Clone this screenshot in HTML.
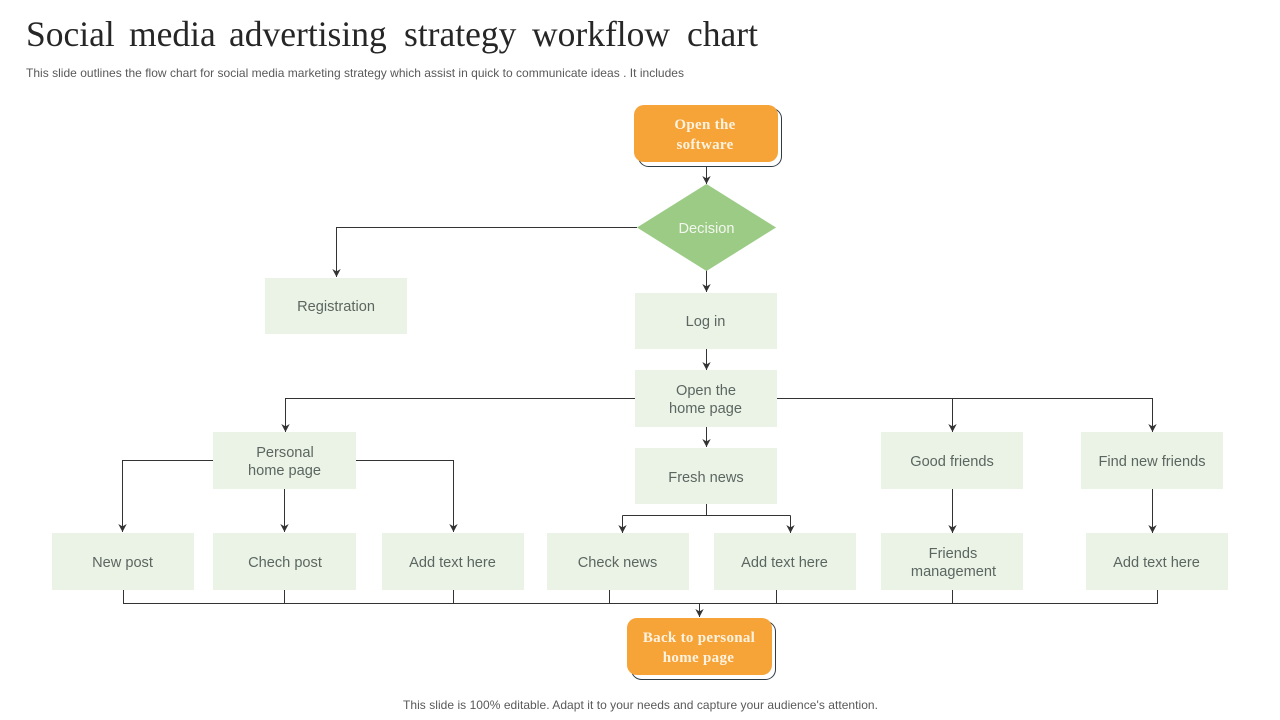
<!DOCTYPE html>
<html><head><meta charset="utf-8"><style>
html,body{margin:0;padding:0;background:#fff;width:1280px;height:720px;overflow:hidden}
svg{display:block}
.n{font:14.6px "Liberation Sans",sans-serif;fill:#5c6660;text-anchor:middle}
.o{font:bold 15px "Liberation Serif",serif;fill:#fdf3e0;text-anchor:middle;letter-spacing:.3px}
.l{fill:none;stroke:#333;stroke-width:1}
.b{fill:#ebf3e7}
</style></head><body>
<svg width="1280" height="720" viewBox="0 0 1280 720" xmlns="http://www.w3.org/2000/svg">
<defs><marker id="a" markerUnits="userSpaceOnUse" markerWidth="11" markerHeight="11" refX="9" refY="5.5" orient="auto" viewBox="0 0 11 11"><path d="M1 1.300L3.400 5.500L1 9.700L9 5.500Z" fill="#333"/></marker></defs>
<text y="46" font-family="'Liberation Serif',serif" font-size="35.500" fill="#262626"><tspan x="26">Social</tspan><tspan x="129">media</tspan><tspan x="229">advertising</tspan><tspan x="404">strategy</tspan><tspan x="532">workflow</tspan><tspan x="687">chart</tspan></text>
<text x="26" y="77" font-family="'Liberation Sans',sans-serif" font-size="12" fill="#595959" textLength="658">This slide outlines the flow chart for social media marketing strategy which assist in quick to communicate ideas . It includes</text>

<!-- connectors -->
<g class="l">
<path d="M706.500 166V184" marker-end="url(#a)"/>
<path d="M637 227.500H336.500V277" marker-end="url(#a)"/>
<path d="M706.500 270V292" marker-end="url(#a)"/>
<path d="M706.500 349V370" marker-end="url(#a)"/>
<path d="M635 398.500H285.500V432" marker-end="url(#a)"/>
<path d="M777 398.500H1152.500V432" marker-end="url(#a)"/>
<path d="M952.500 398.500V432" marker-end="url(#a)"/>
<path d="M706.500 427V447" marker-end="url(#a)"/>
<path d="M213 460.500H122.500V532" marker-end="url(#a)"/>
<path d="M356 460.500H453.500V532" marker-end="url(#a)"/>
<path d="M284.500 489V532" marker-end="url(#a)"/>
<path d="M706.500 504V515.500"/>
<path d="M622.500 515.500V533" marker-end="url(#a)"/>
<path d="M790.500 515.500V533" marker-end="url(#a)"/>
<path d="M622.500 515.500H790.500"/>
<path d="M952.500 489V533" marker-end="url(#a)"/>
<path d="M1152.500 489V533" marker-end="url(#a)"/>
<path d="M123.500 590V603.500H1157.500V590"/>
<path d="M284.500 590V603.500M453.500 590V603.500M609.500 590V603.500M776.500 590V603.500M952.500 590V603.500"/>
<path d="M699.500 603.500V617" marker-end="url(#a)"/>
</g>

<!-- top terminator -->
<rect x="638.500" y="108.500" width="143" height="58" rx="10" fill="#fff" stroke="#2f3b45"/>
<rect x="634" y="105" width="144" height="57" rx="10" fill="#f6a338"/>
<text class="o" x="705" y="129">Open the</text>
<text class="o" x="705" y="149">software</text>

<polygon points="706.500,184 776,227.500 706.500,271 637,227.500" fill="#9bcb85"/>
<text x="706.500" y="233" text-anchor="middle" font-family="'Liberation Sans',sans-serif" font-size="14.600" fill="#f2f7ee">Decision</text>

<rect class="b" x="265" y="278" width="142" height="56"/>
<text class="n" x="336" y="311">Registration</text>
<rect class="b" x="635" y="293" width="142" height="56"/>
<text class="n" x="705.500" y="326">Log in</text>
<rect class="b" x="635" y="370" width="142" height="57"/>
<text class="n" x="706" y="395">Open the</text>
<text class="n" x="705.500" y="413">home page</text>

<rect class="b" x="213" y="432" width="143" height="57"/>
<text class="n" x="285" y="457">Personal</text>
<text class="n" x="284.500" y="475">home page</text>
<rect class="b" x="635" y="448" width="142" height="56"/>
<text class="n" x="706" y="482">Fresh news</text>
<rect class="b" x="881" y="432" width="142" height="57"/>
<text class="n" x="952" y="466">Good friends</text>
<rect class="b" x="1081" y="432" width="142" height="57"/>
<text class="n" x="1152" y="466">Find new friends</text>

<rect class="b" x="52" y="533" width="142" height="57"/>
<text class="n" x="122.500" y="567">New post</text>
<rect class="b" x="213" y="533" width="143" height="57"/>
<text class="n" x="285" y="567">Chech post</text>
<rect class="b" x="382" y="533" width="142" height="57"/>
<text class="n" x="452.500" y="567">Add text here</text>
<rect class="b" x="547" y="533" width="142" height="57"/>
<text class="n" x="617.500" y="567">Check news</text>
<rect class="b" x="714" y="533" width="142" height="57"/>
<text class="n" x="784.500" y="567">Add text here</text>
<rect class="b" x="881" y="533" width="142" height="57"/>
<text class="n" x="953" y="558">Friends</text>
<text class="n" x="953.500" y="576">management</text>
<rect class="b" x="1086" y="533" width="142" height="57"/>
<text class="n" x="1156.500" y="567">Add text here</text>

<!-- bottom terminator -->
<rect x="631.500" y="621.500" width="144" height="58" rx="10" fill="#fff" stroke="#2f3b45"/>
<rect x="627" y="618" width="145" height="57" rx="10" fill="#f6a338"/>
<text class="o" x="699" y="642">Back to personal</text>
<text class="o" x="698.500" y="662">home page</text>

<text x="640.500" y="709" text-anchor="middle" font-family="'Liberation Sans',sans-serif" font-size="12" fill="#595959" textLength="475">This slide is 100% editable. Adapt it to your needs and capture your audience's attention.</text>
</svg>
</body></html>
